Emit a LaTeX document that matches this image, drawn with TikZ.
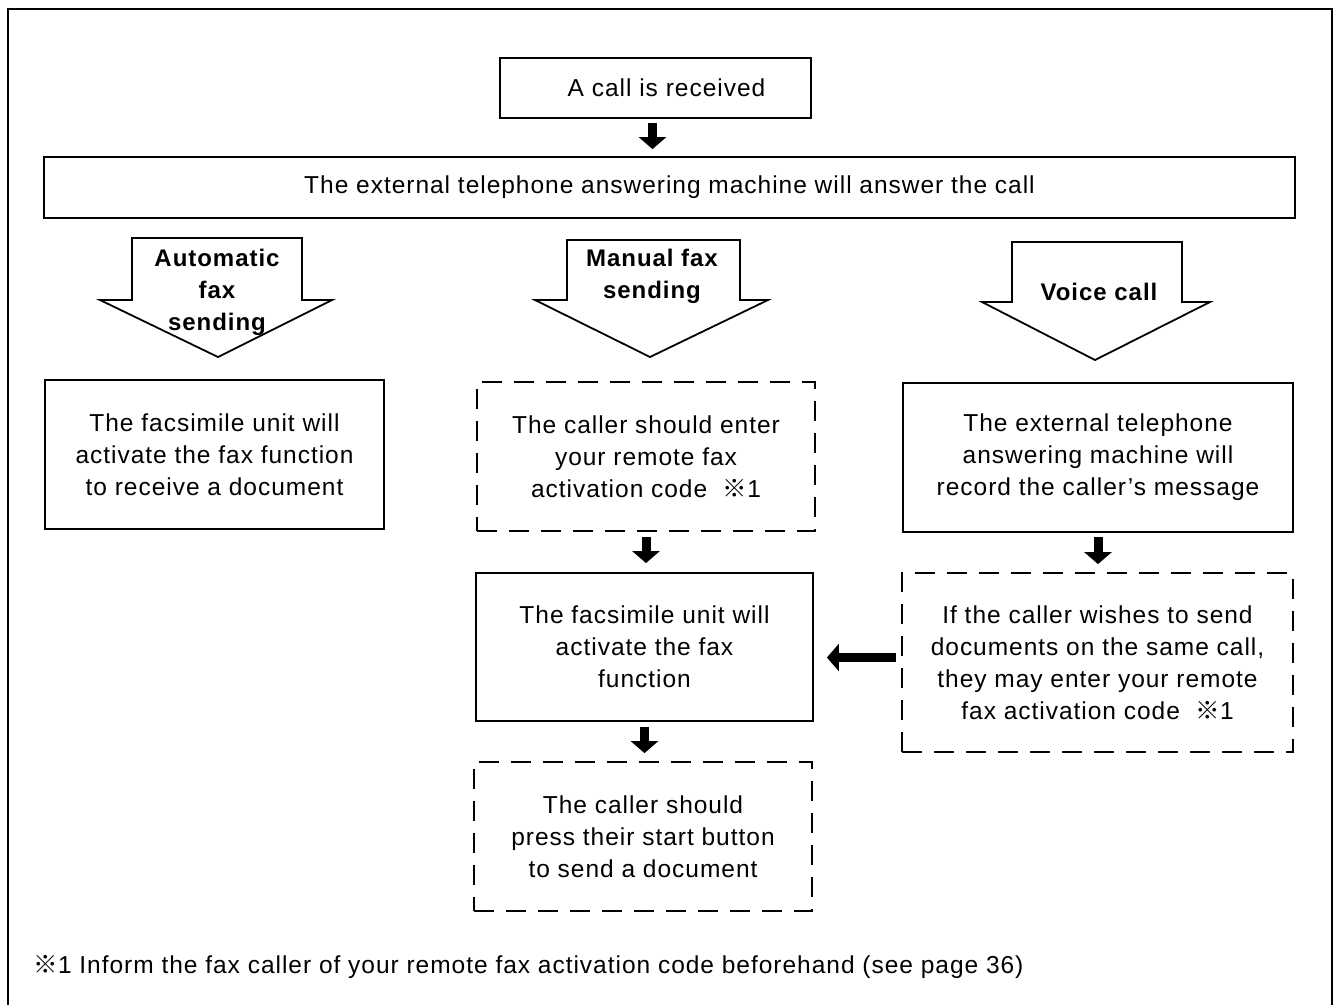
\documentclass[tikz,border=0pt]{standalone}
\usepackage{fontspec}
\setmainfont{Liberation Sans}[LetterSpace=4]
\newfontfamily\refmarkfont{Noto Sans CJK JP}
\usetikzlibrary{arrows.meta}
\newcommand{\rmk}{{\refmarkfont ※}}
\begin{document}
\begin{tikzpicture}[x=1pt,y=-1pt,
  txt/.style={font=\fontsize{24.5}{32}\selectfont, align=center},
  box/.style={txt, draw, line width=1.8pt, inner sep=0pt},
  dbox/.style={box, dash pattern=on 20pt off 12pt},
  blk/.style={draw, line width=1.8pt, line join=miter, fill=white},
  blktxt/.style={font=\fontsize{24}{32}\selectfont\bfseries, align=center},
  fatarrow/.style={line width=9pt, -{Triangle[width=27pt,length=12pt]}},
]
\useasboundingbox (0,0) rectangle (1336,1005);
% outer frame
\draw[line width=1.8pt] (8,1005) -- (8,9) -- (1332,9) -- (1332,1005);

% nodes
\node[box, minimum width=311pt, minimum height=60pt] (recv) at (655.5,88) {\hspace*{22pt}A call is received};
\node[box, minimum width=1251pt, minimum height=61pt] (ans) at (669.5,187.5) {The external telephone answering machine will answer the call};

% block arrows
\draw[blk] (132,238) -- (302,238) -- (302,300) -- (332,300) -- (218,357) -- (100,300) -- (132,300) -- cycle;
\node[blktxt] (autot) at (217,292) {Automatic\\fax\\sending};
\draw[blk] (567,240) -- (740,240) -- (740,300) -- (768,300) -- (650,357) -- (535,300) -- (567,300) -- cycle;
\node[blktxt] (mant) at (652,276) {Manual fax\\sending};
\draw[blk] (1012,242) -- (1182,242) -- (1182,302) -- (1210,302) -- (1095,360) -- (982,302) -- (1012,302) -- cycle;
\node[blktxt] (voit) at (1099,292) {Voice call};

\node[box, minimum width=339pt, minimum height=149pt] (autob) at (214.5,454.5) {The facsimile unit will\\activate the fax function\\to receive a document};
\node[dbox, minimum width=338pt, minimum height=149pt] (enter) at (646,456.5) {The caller should enter\\your remote fax\\activation code \ \rmk1};
\node[box, minimum width=390pt, minimum height=149pt] (record) at (1098,457.5) {The external telephone\\answering machine will\\record the caller's message};
\node[box, minimum width=337pt, minimum height=148pt] (act) at (644.5,647) {The facsimile unit will\\activate the fax\\function};
\node[dbox, minimum width=391pt, minimum height=179pt] (wish) at (1097.5,662.5) {If the caller wishes to send\\documents on the same call,\\they may enter your remote\\fax activation code \ \rmk1};
\node[dbox, minimum width=338pt, minimum height=149pt] (press) at (643,836.5) {The caller should\\press their start button\\to send a document};

% connectors
\draw[fatarrow, shorten <=4pt, shorten >=7pt] ([xshift=-3pt]recv.south) -- ([xshift=-3pt]recv.south |- ans.north);
\draw[fatarrow, shorten <=5pt, shorten >=9pt] (enter.south) -- (enter.south |- act.north);
\draw[fatarrow, shorten <=5pt, shorten >=8pt] (act.south) -- (act.south |- press.north);
\draw[fatarrow, shorten <=4pt, shorten >=8pt] (record.south) -- (record.south |- wish.north);
\draw[fatarrow, shorten <=5pt, shorten >=13pt] ([yshift=5pt]wish.west) -- ([yshift=5pt]wish.west -| act.east);

% footnote
\node[txt, anchor=west] (note) at (30,967) {\rmk1 Inform the fax caller of your remote fax activation code beforehand (see page 36)};
\end{tikzpicture}
\end{document}
